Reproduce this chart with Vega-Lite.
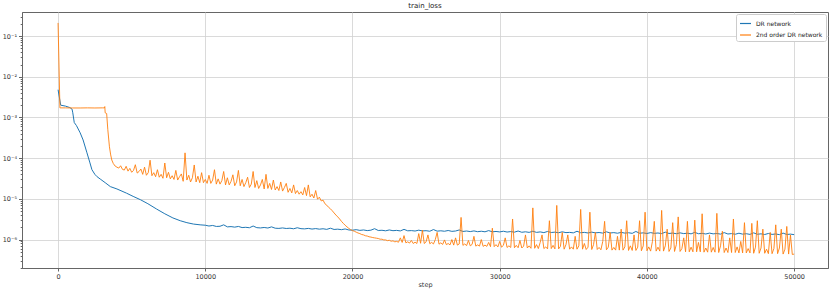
{
"$schema":"https://vega.github.io/schema/vega-lite/v6.json",
"width":806,"height":256,
"autosize":{"type":"none"},
"padding":{"left":22,"top":12,"right":2,"bottom":22},
"background":"white",
"title":{"text":"train_loss","fontSize":7,"font":"DejaVu Sans","fontWeight":"normal","color":"#222","offset":3,"anchor":"middle"},
"config":{"view":{"stroke":"#666","strokeWidth":1},"font":"DejaVu Sans",
 "axis":{"labelFont":"DejaVu Sans","labelFontSize":6.5,"labelColor":"#333","titleFont":"DejaVu Sans","titleFontSize":6.5,"titleFontWeight":"normal","titleColor":"#333","domainColor":"#666","tickColor":"#666","gridColor":"#d0d0d0","gridWidth":0.8,"labelOverlap":false,"labelFlush":false}},
"datasets":{
"blue":[
{"step":0,"loss":4.8e-3},{"step":180,"loss":2.0e-3},{"step":500,"loss":1.9e-3},{"step":800,"loss":1.75e-3},{"step":950,"loss":1.6e-3},{"step":1000,"loss":1.3e-3},{"step":1100,"loss":7.5e-4},{"step":1250,"loss":6.3e-4},{"step":1500,"loss":4.2e-4},{"step":1700,"loss":2.8e-4},{"step":1950,"loss":1.4e-4},{"step":2150,"loss":8.0e-5},{"step":2300,"loss":5.2e-5},{"step":2500,"loss":4.0e-5},{"step":2650,"loss":3.5e-5},{"step":2900,"loss":3.0e-5},{"step":3200,"loss":2.5e-5},{"step":3550,"loss":2.0e-5},{"step":4000,"loss":1.75e-5},{"step":4650,"loss":1.38e-5},{"step":5100,"loss":1.15e-5},{"step":5600,"loss":9.5e-6},{"step":6100,"loss":7.6e-6},{"step":6700,"loss":5.6e-6},{"step":7250,"loss":4.3e-6},{"step":7800,"loss":3.4e-6},{"step":8300,"loss":2.9e-6},{"step":8750,"loss":2.6e-6},{"step":9200,"loss":2.4e-6},{"step":9650,"loss":2.3e-6},{"step":10000,"loss":2.25e-6},
{"step":10250,"loss":2.15e-6},{"step":10500,"loss":2.22e-6},{"step":10750,"loss":2.1e-6},{"step":11000,"loss":2.12e-6},{"step":11250,"loss":2.3e-6},{"step":11500,"loss":2.05e-6},{"step":11750,"loss":2.08e-6},{"step":12000,"loss":2.02e-6},{"step":12250,"loss":2.1e-6},{"step":12500,"loss":1.97e-6},{"step":12750,"loss":2.0e-6},{"step":13000,"loss":1.95e-6},{"step":13250,"loss":2.15e-6},{"step":13500,"loss":1.96e-6},{"step":13750,"loss":1.93e-6},{"step":14000,"loss":1.98e-6},{"step":14250,"loss":1.92e-6},{"step":14500,"loss":2.05e-6},{"step":14750,"loss":1.9e-6},{"step":15000,"loss":1.88e-6},{"step":15250,"loss":1.93e-6},{"step":15500,"loss":1.87e-6},{"step":15750,"loss":1.9e-6},{"step":16000,"loss":1.84e-6},{"step":16250,"loss":1.95e-6},{"step":16500,"loss":1.85e-6},{"step":16750,"loss":1.83e-6},{"step":17000,"loss":1.88e-6},{"step":17250,"loss":1.81e-6},{"step":17500,"loss":1.86e-6},{"step":17750,"loss":1.8e-6},{"step":18000,"loss":1.84e-6},{"step":18250,"loss":1.78e-6},{"step":18500,"loss":1.9e-6},{"step":18750,"loss":1.77e-6},{"step":19000,"loss":1.8e-6},{"step":19250,"loss":1.75e-6},{"step":19500,"loss":1.82e-6},{"step":19750,"loss":1.72e-6},{"step":20000,"loss":1.7e-6},
{"step":20250,"loss":1.75e-6},{"step":20500,"loss":1.68e-6},{"step":20750,"loss":1.72e-6},{"step":21000,"loss":1.66e-6},{"step":21250,"loss":1.7e-6},{"step":21500,"loss":1.85e-6},{"step":21750,"loss":1.67e-6},{"step":22000,"loss":1.69e-6},{"step":22250,"loss":1.64e-6},{"step":22500,"loss":1.72e-6},{"step":22750,"loss":1.65e-6},{"step":23000,"loss":1.68e-6},{"step":23250,"loss":1.63e-6},{"step":23500,"loss":1.78e-6},{"step":23750,"loss":1.64e-6},{"step":24000,"loss":1.66e-6},{"step":24250,"loss":1.62e-6},{"step":24500,"loss":1.7e-6},{"step":24750,"loss":1.63e-6},{"step":25000,"loss":1.65e-6},{"step":25250,"loss":1.6e-6},{"step":25500,"loss":1.76e-6},{"step":25750,"loss":1.61e-6},{"step":26000,"loss":1.64e-6},{"step":26250,"loss":1.6e-6},{"step":26500,"loss":1.67e-6},{"step":26750,"loss":1.59e-6},{"step":27000,"loss":1.62e-6},{"step":27250,"loss":1.72e-6},{"step":27500,"loss":1.58e-6},{"step":27750,"loss":1.62e-6},{"step":28000,"loss":1.57e-6},{"step":28250,"loss":1.63e-6},{"step":28500,"loss":1.56e-6},{"step":28750,"loss":1.6e-6},{"step":29000,"loss":1.55e-6},{"step":29250,"loss":1.66e-6},{"step":29500,"loss":1.55e-6},{"step":29750,"loss":1.58e-6},{"step":30000,"loss":1.54e-6},
{"step":30250,"loss":1.6e-6},{"step":30500,"loss":1.53e-6},{"step":30750,"loss":1.57e-6},{"step":31000,"loss":1.52e-6},{"step":31250,"loss":1.62e-6},{"step":31500,"loss":1.51e-6},{"step":31750,"loss":1.55e-6},{"step":32000,"loss":1.5e-6},{"step":32250,"loss":1.6e-6},{"step":32500,"loss":1.5e-6},{"step":32750,"loss":1.54e-6},{"step":33000,"loss":1.48e-6},{"step":33250,"loss":1.58e-6},{"step":33500,"loss":1.49e-6},{"step":33750,"loss":1.52e-6},{"step":34000,"loss":1.47e-6},{"step":34250,"loss":1.55e-6},{"step":34500,"loss":1.48e-6},{"step":34750,"loss":1.5e-6},{"step":35000,"loss":1.46e-6},{"step":35250,"loss":1.6e-6},{"step":35500,"loss":1.47e-6},{"step":35750,"loss":1.5e-6},{"step":36000,"loss":1.45e-6},{"step":36250,"loss":1.52e-6},{"step":36500,"loss":1.46e-6},{"step":36750,"loss":1.49e-6},{"step":37000,"loss":1.44e-6},{"step":37250,"loss":1.55e-6},{"step":37500,"loss":1.45e-6},{"step":37750,"loss":1.48e-6},{"step":38000,"loss":1.43e-6},{"step":38250,"loss":1.5e-6},{"step":38500,"loss":1.44e-6},{"step":38750,"loss":1.47e-6},{"step":39000,"loss":1.42e-6},{"step":39250,"loss":1.58e-6},{"step":39500,"loss":1.43e-6},{"step":39750,"loss":1.46e-6},{"step":40000,"loss":1.41e-6},
{"step":40250,"loss":1.48e-6},{"step":40500,"loss":1.42e-6},{"step":40750,"loss":1.45e-6},{"step":41000,"loss":1.4e-6},{"step":41250,"loss":1.52e-6},{"step":41500,"loss":1.41e-6},{"step":41750,"loss":1.44e-6},{"step":42000,"loss":1.39e-6},{"step":42250,"loss":1.46e-6},{"step":42500,"loss":1.4e-6},{"step":42750,"loss":1.43e-6},{"step":43000,"loss":1.38e-6},{"step":43250,"loss":1.5e-6},{"step":43500,"loss":1.39e-6},{"step":43750,"loss":1.42e-6},{"step":44000,"loss":1.37e-6},{"step":44250,"loss":1.44e-6},{"step":44500,"loss":1.38e-6},{"step":44750,"loss":1.41e-6},{"step":45000,"loss":1.36e-6},{"step":45250,"loss":1.48e-6},{"step":45500,"loss":1.37e-6},{"step":45750,"loss":1.4e-6},{"step":46000,"loss":1.35e-6},{"step":46250,"loss":1.43e-6},{"step":46500,"loss":1.36e-6},{"step":46750,"loss":1.39e-6},{"step":47000,"loss":1.34e-6},{"step":47250,"loss":1.46e-6},{"step":47500,"loss":1.35e-6},{"step":47750,"loss":1.38e-6},{"step":48000,"loss":1.33e-6},{"step":48250,"loss":1.41e-6},{"step":48500,"loss":1.34e-6},{"step":48750,"loss":1.37e-6},{"step":49000,"loss":1.32e-6},{"step":49250,"loss":1.44e-6},{"step":49500,"loss":1.33e-6},{"step":49750,"loss":1.36e-6},{"step":50000,"loss":1.32e-6}
],
"orange":[
{"step":0,"loss":0.21},{"step":125,"loss":1.72e-3},{"step":500,"loss":1.72e-3},{"step":1000,"loss":1.71e-3},{"step":1500,"loss":1.71e-3},{"step":2000,"loss":1.72e-3},{"step":2500,"loss":1.71e-3},{"step":3000,"loss":1.72e-3},{"step":3150,"loss":1.72e-3},{"step":3175,"loss":1.85e-3},{"step":3200,"loss":1.3e-3},{"step":3300,"loss":1.25e-3},{"step":3380,"loss":5.0e-4},{"step":3490,"loss":1.9e-4},{"step":3575,"loss":1.2e-4},{"step":3650,"loss":9.0e-5},
{"step":3750,"loss":7.4e-5},{"step":3875,"loss":6.4e-5},{"step":4000,"loss":6.0e-5},{"step":4125,"loss":5.7e-5},{"step":4250,"loss":6.5e-5},{"step":4375,"loss":5.3e-5},{"step":4500,"loss":5.1e-5},{"step":4625,"loss":6.3e-5},{"step":4750,"loss":4.8e-5},{"step":4875,"loss":5.6e-5},{"step":5000,"loss":4.5e-5},{"step":5125,"loss":5.0e-5},{"step":5250,"loss":6.9e-5},{"step":5375,"loss":4.3e-5},{"step":5500,"loss":4.7e-5},{"step":5625,"loss":5.4e-5},{"step":5750,"loss":4.0e-5},{"step":5875,"loss":6.0e-5},{"step":6000,"loss":3.8e-5},{"step":6125,"loss":4.4e-5},{"step":6250,"loss":8.9e-5},{"step":6375,"loss":3.7e-5},{"step":6500,"loss":4.4e-5},{"step":6625,"loss":3.5e-5},{"step":6750,"loss":5.2e-5},{"step":6875,"loss":3.4e-5},{"step":7000,"loss":4.0e-5},{"step":7125,"loss":3.2e-5},{"step":7250,"loss":7.6e-5},{"step":7375,"loss":3.3e-5},{"step":7500,"loss":4.5e-5},{"step":7625,"loss":3.1e-5},{"step":7750,"loss":3.7e-5},{"step":7875,"loss":3.0e-5},{"step":8000,"loss":5.0e-5},{"step":8125,"loss":2.9e-5},{"step":8250,"loss":3.5e-5},{"step":8375,"loss":4.1e-5},{"step":8500,"loss":2.7e-5},{"step":8625,"loss":1.35e-4},{"step":8750,"loss":2.9e-5},{"step":8875,"loss":3.8e-5},{"step":9000,"loss":2.6e-5},{"step":9125,"loss":3.3e-5},{"step":9250,"loss":6.8e-5},{"step":9375,"loss":2.6e-5},{"step":9500,"loss":3.6e-5},{"step":9625,"loss":2.5e-5},{"step":9750,"loss":4.4e-5},{"step":9875,"loss":2.5e-5},{"step":10000,"loss":3.0e-5},
{"step":10125,"loss":2.4e-5},{"step":10250,"loss":3.8e-5},{"step":10375,"loss":2.4e-5},{"step":10500,"loss":2.9e-5},{"step":10625,"loss":5.2e-5},{"step":10750,"loss":2.3e-5},{"step":10875,"loss":3.1e-5},{"step":11000,"loss":2.3e-5},{"step":11125,"loss":2.8e-5},{"step":11250,"loss":4.7e-5},{"step":11375,"loss":2.2e-5},{"step":11500,"loss":3.3e-5},{"step":11625,"loss":2.2e-5},{"step":11750,"loss":2.7e-5},{"step":11875,"loss":3.9e-5},{"step":12000,"loss":2.1e-5},{"step":12125,"loss":2.6e-5},{"step":12250,"loss":5.0e-5},{"step":12375,"loss":2.1e-5},{"step":12500,"loss":3.0e-5},{"step":12625,"loss":2.0e-5},{"step":12750,"loss":2.5e-5},{"step":12875,"loss":3.4e-5},{"step":13000,"loss":1.9e-5},{"step":13125,"loss":2.3e-5},{"step":13250,"loss":4.7e-5},{"step":13375,"loss":1.9e-5},{"step":13500,"loss":2.8e-5},{"step":13625,"loss":1.8e-5},{"step":13750,"loss":2.2e-5},{"step":13875,"loss":3.0e-5},{"step":14000,"loss":1.75e-5},{"step":14125,"loss":4.0e-5},{"step":14250,"loss":1.8e-5},{"step":14375,"loss":2.4e-5},{"step":14500,"loss":1.7e-5},{"step":14625,"loss":2.9e-5},{"step":14750,"loss":1.65e-5},{"step":14875,"loss":2.0e-5},{"step":15000,"loss":1.6e-5},{"step":15125,"loss":2.6e-5},{"step":15250,"loss":1.55e-5},{"step":15375,"loss":1.9e-5},{"step":15500,"loss":2.4e-5},{"step":15625,"loss":1.45e-5},{"step":15750,"loss":1.8e-5},{"step":15875,"loss":1.4e-5},{"step":16000,"loss":2.2e-5},{"step":16125,"loss":1.35e-5},{"step":16250,"loss":1.6e-5},{"step":16375,"loss":1.3e-5},{"step":16500,"loss":1.5e-5},{"step":16625,"loss":1.25e-5},{"step":16750,"loss":1.9e-5},{"step":16875,"loss":1.2e-5},{"step":17000,"loss":2.2e-5},{"step":17125,"loss":1.12e-5},{"step":17250,"loss":1.3e-5},{"step":17375,"loss":1.05e-5},{"step":17500,"loss":1.6e-5},{"step":17625,"loss":9.8e-6},{"step":17750,"loss":1.1e-5},{"step":17875,"loss":8.9e-6},{"step":18000,"loss":9.3e-6},{"step":18125,"loss":7.6e-6},{"step":18250,"loss":7.0e-6},{"step":18375,"loss":6.2e-6},{"step":18500,"loss":5.7e-6},{"step":18625,"loss":5.1e-6},{"step":18750,"loss":4.5e-6},{"step":18875,"loss":4.0e-6},{"step":19000,"loss":3.6e-6},{"step":19125,"loss":3.2e-6},{"step":19250,"loss":2.8e-6},{"step":19375,"loss":2.5e-6},{"step":19500,"loss":2.25e-6},{"step":19625,"loss":2.05e-6},{"step":19750,"loss":1.88e-6},{"step":19875,"loss":1.75e-6},{"step":20000,"loss":1.66e-6},
{"step":20125,"loss":1.6e-6},{"step":20250,"loss":1.52e-6},{"step":20375,"loss":1.45e-6},{"step":20500,"loss":1.4e-6},{"step":20625,"loss":1.33e-6},{"step":20750,"loss":1.3e-6},{"step":20875,"loss":1.24e-6},{"step":21000,"loss":1.22e-6},{"step":21125,"loss":1.17e-6},{"step":21250,"loss":1.15e-6},{"step":21375,"loss":1.12e-6},{"step":21500,"loss":1.1e-6},{"step":21625,"loss":1.08e-6},{"step":21750,"loss":1.06e-6},{"step":21875,"loss":1.02e-6},{"step":22000,"loss":1.02e-6},{"step":22125,"loss":9.8e-7},{"step":22250,"loss":9.8e-7},{"step":22375,"loss":9.4e-7},{"step":22500,"loss":9.6e-7},{"step":22625,"loss":9.1e-7},{"step":22750,"loss":9.3e-7},{"step":22875,"loss":8.8e-7},{"step":23000,"loss":9.0e-7},{"step":23125,"loss":8.6e-7},{"step":23250,"loss":1.1e-6},{"step":23375,"loss":8.5e-7},{"step":23500,"loss":1.25e-6},{"step":23625,"loss":8.3e-7},{"step":23750,"loss":8.8e-7},{"step":23875,"loss":8.2e-7},{"step":24000,"loss":9.5e-7},{"step":24125,"loss":8.0e-7},{"step":24250,"loss":8.6e-7},{"step":24375,"loss":8.0e-7},{"step":24500,"loss":1.4e-6},{"step":24625,"loss":8.1e-7},{"step":24750,"loss":1.7e-6},{"step":24875,"loss":8.0e-7},{"step":25000,"loss":8.8e-7},{"step":25125,"loss":1.3e-6},{"step":25250,"loss":7.9e-7},{"step":25375,"loss":8.5e-7},{"step":25500,"loss":7.8e-7},{"step":25625,"loss":1.0e-6},{"step":25750,"loss":1.5e-6},{"step":25875,"loss":7.7e-7},{"step":26000,"loss":8.3e-7},{"step":26125,"loss":7.6e-7},{"step":26250,"loss":9.8e-7},{"step":26375,"loss":7.5e-7},{"step":26500,"loss":8.0e-7},{"step":26625,"loss":7.4e-7},{"step":26750,"loss":1.0e-6},{"step":26875,"loss":7.3e-7},{"step":27000,"loss":1.1e-6},{"step":27125,"loss":7.3e-7},{"step":27250,"loss":7.8e-7},{"step":27375,"loss":3.5e-6},{"step":27500,"loss":7.2e-7},{"step":27625,"loss":7.8e-7},{"step":27750,"loss":7.1e-7},{"step":27875,"loss":9.5e-7},{"step":28000,"loss":7.0e-7},{"step":28125,"loss":7.6e-7},{"step":28250,"loss":1.2e-6},{"step":28375,"loss":6.9e-7},{"step":28500,"loss":7.4e-7},{"step":28625,"loss":6.9e-7},{"step":28750,"loss":1.0e-6},{"step":28875,"loss":6.8e-7},{"step":29000,"loss":7.3e-7},{"step":29125,"loss":6.8e-7},{"step":29250,"loss":8.5e-7},{"step":29375,"loss":6.7e-7},{"step":29500,"loss":1.9e-6},{"step":29625,"loss":6.7e-7},{"step":29750,"loss":7.5e-7},{"step":29875,"loss":6.6e-7},{"step":30000,"loss":9.0e-7},
{"step":30125,"loss":6.5e-7},{"step":30250,"loss":7.2e-7},{"step":30375,"loss":1.1e-6},{"step":30500,"loss":6.4e-7},{"step":30625,"loss":7.0e-7},{"step":30750,"loss":6.4e-7},{"step":30875,"loss":3.2e-6},{"step":31000,"loss":6.3e-7},{"step":31125,"loss":7.2e-7},{"step":31250,"loss":6.3e-7},{"step":31375,"loss":9.5e-7},{"step":31500,"loss":6.2e-7},{"step":31625,"loss":6.9e-7},{"step":31750,"loss":1.3e-6},{"step":31875,"loss":6.2e-7},{"step":32000,"loss":7.0e-7},{"step":32125,"loss":6.1e-7},{"step":32250,"loss":6.0e-6},{"step":32375,"loss":6.1e-7},{"step":32500,"loss":7.5e-7},{"step":32625,"loss":6.0e-7},{"step":32750,"loss":8.5e-7},{"step":32875,"loss":1.3e-6},{"step":33000,"loss":6.0e-7},{"step":33125,"loss":6.6e-7},{"step":33250,"loss":5.9e-7},{"step":33375,"loss":2.9e-6},{"step":33500,"loss":6.0e-7},{"step":33625,"loss":7.2e-7},{"step":33750,"loss":5.9e-7},{"step":33875,"loss":6.9e-6},{"step":34000,"loss":5.9e-7},{"step":34125,"loss":6.8e-7},{"step":34250,"loss":1.5e-6},{"step":34375,"loss":5.8e-7},{"step":34500,"loss":7.5e-7},{"step":34625,"loss":1.3e-6},{"step":34750,"loss":5.8e-7},{"step":34875,"loss":6.6e-7},{"step":35000,"loss":5.8e-7},{"step":35125,"loss":1.2e-6},{"step":35250,"loss":5.8e-7},{"step":35375,"loss":7.0e-7},{"step":35500,"loss":5.5e-6},{"step":35625,"loss":5.8e-7},{"step":35750,"loss":8.0e-7},{"step":35875,"loss":5.7e-7},{"step":36000,"loss":6.5e-7},{"step":36125,"loss":4.7e-6},{"step":36250,"loss":5.7e-7},{"step":36375,"loss":7.5e-7},{"step":36500,"loss":1.5e-6},{"step":36625,"loss":5.7e-7},{"step":36750,"loss":6.4e-7},{"step":36875,"loss":5.6e-7},{"step":37000,"loss":9.0e-7},{"step":37125,"loss":2.8e-6},{"step":37250,"loss":5.6e-7},{"step":37375,"loss":6.5e-7},{"step":37500,"loss":1.5e-6},{"step":37625,"loss":5.5e-7},{"step":37750,"loss":6.4e-7},{"step":37875,"loss":5.5e-7},{"step":38000,"loss":1.2e-6},{"step":38125,"loss":5.5e-7},{"step":38250,"loss":1.8e-6},{"step":38375,"loss":5.5e-7},{"step":38500,"loss":6.6e-7},{"step":38625,"loss":2.9e-6},{"step":38750,"loss":5.4e-7},{"step":38875,"loss":7.0e-7},{"step":39000,"loss":5.4e-7},{"step":39125,"loss":1.3e-6},{"step":39250,"loss":5.4e-7},{"step":39375,"loss":6.5e-7},{"step":39500,"loss":2.9e-6},{"step":39625,"loss":5.3e-7},{"step":39750,"loss":7.0e-7},{"step":39875,"loss":4.7e-6},{"step":40000,"loss":5.3e-7},
{"step":40125,"loss":6.6e-7},{"step":40250,"loss":5.2e-7},{"step":40375,"loss":9.0e-7},{"step":40500,"loss":2.8e-6},{"step":40625,"loss":5.2e-7},{"step":40750,"loss":6.5e-7},{"step":40875,"loss":5.2e-7},{"step":41000,"loss":5.2e-6},{"step":41125,"loss":5.2e-7},{"step":41250,"loss":7.0e-7},{"step":41375,"loss":1.8e-6},{"step":41500,"loss":5.1e-7},{"step":41625,"loss":6.2e-7},{"step":41750,"loss":2.6e-6},{"step":41875,"loss":5.1e-7},{"step":42000,"loss":7.5e-7},{"step":42125,"loss":3.6e-6},{"step":42250,"loss":5.1e-7},{"step":42375,"loss":6.0e-7},{"step":42500,"loss":1.1e-6},{"step":42625,"loss":5.0e-7},{"step":42750,"loss":2.8e-6},{"step":42875,"loss":5.0e-7},{"step":43000,"loss":6.5e-7},{"step":43125,"loss":5.0e-7},{"step":43250,"loss":3.0e-6},{"step":43375,"loss":5.0e-7},{"step":43500,"loss":8.5e-7},{"step":43625,"loss":5.0e-7},{"step":43750,"loss":4.3e-6},{"step":43875,"loss":4.9e-7},{"step":44000,"loss":6.2e-7},{"step":44125,"loss":4.9e-7},{"step":44250,"loss":1.3e-6},{"step":44375,"loss":4.9e-7},{"step":44500,"loss":6.4e-7},{"step":44625,"loss":4.9e-7},{"step":44750,"loss":4.4e-6},{"step":44875,"loss":4.8e-7},{"step":45000,"loss":7.0e-7},{"step":45125,"loss":1.6e-6},{"step":45250,"loss":4.8e-7},{"step":45375,"loss":6.2e-7},{"step":45500,"loss":4.8e-7},{"step":45625,"loss":1.1e-6},{"step":45750,"loss":4.8e-7},{"step":45875,"loss":3.2e-6},{"step":46000,"loss":4.8e-7},{"step":46125,"loss":6.6e-7},{"step":46250,"loss":4.7e-7},{"step":46375,"loss":9.0e-7},{"step":46500,"loss":4.7e-7},{"step":46625,"loss":2.6e-6},{"step":46750,"loss":4.7e-7},{"step":46875,"loss":6.0e-7},{"step":47000,"loss":4.7e-7},{"step":47125,"loss":2.5e-6},{"step":47250,"loss":4.6e-7},{"step":47375,"loss":6.5e-7},{"step":47500,"loss":2.9e-6},{"step":47625,"loss":4.6e-7},{"step":47750,"loss":6.2e-7},{"step":47875,"loss":1.8e-6},{"step":48000,"loss":4.6e-7},{"step":48125,"loss":5.8e-7},{"step":48250,"loss":4.5e-7},{"step":48375,"loss":1.5e-6},{"step":48500,"loss":4.5e-7},{"step":48625,"loss":6.0e-7},{"step":48750,"loss":2.3e-6},{"step":48875,"loss":4.5e-7},{"step":49000,"loss":6.2e-7},{"step":49125,"loss":1.8e-6},{"step":49250,"loss":4.4e-7},{"step":49375,"loss":5.8e-7},{"step":49500,"loss":2.1e-6},{"step":49625,"loss":4.4e-7},{"step":49750,"loss":1.3e-6},{"step":49875,"loss":4.3e-7},{"step":50000,"loss":4.4e-7}
]},
"encoding":{
 "x":{"field":"step","type":"quantitative","scale":{"domain":[-2450,52300],"nice":false,"zero":false},
  "axis":{"values":[0,10000,20000,30000,40000,50000],"format":"d","title":"step","tickSize":3,"labelPadding":2,"titlePadding":2,"grid":true}},
 "y":{"field":"loss","type":"quantitative","scale":{"type":"log","domain":[2e-7,0.39],"nice":false},
  "axis":{"title":null,"grid":true,"labelPadding":2,
   "values":[2e-7,3e-7,4e-7,5e-7,6e-7,7e-7,8e-7,9e-7,1e-6,2e-6,3e-6,4e-6,5e-6,6e-6,7e-6,8e-6,9e-6,1e-5,2e-5,3e-5,4e-5,5e-5,6e-5,7e-5,8e-5,9e-5,1e-4,2e-4,3e-4,4e-4,5e-4,6e-4,7e-4,8e-4,9e-4,1e-3,2e-3,3e-3,4e-3,5e-3,6e-3,7e-3,8e-3,9e-3,1e-2,2e-2,3e-2,4e-2,5e-2,6e-2,7e-2,8e-2,9e-2,1e-1,2e-1,3e-1],
   "labelExpr":"abs(log(datum.value)/LN10 - round(log(datum.value)/LN10)) < 0.01 ? '10⁻' + ['⁰','¹','²','³','⁴','⁵','⁶','⁷','⁸'][-round(log(datum.value)/LN10)] : ''",
   "tickSize":{"condition":{"test":"abs(log(datum.value)/LN10 - round(log(datum.value)/LN10)) < 0.01","value":3.5},"value":1.8},
   "gridOpacity":{"condition":{"test":"abs(log(datum.value)/LN10 - round(log(datum.value)/LN10)) < 0.01","value":1},"value":0}}}
},
"layer":[
 {"data":{"name":"blue"},"mark":{"type":"line","strokeWidth":1,"clip":true},
  "encoding":{"color":{"datum":"DR network","type":"nominal","scale":{"domain":["DR network","2nd order DR network"],"range":["#1f77b4","#ff7f0e"]},
   "legend":{"title":null,"orient":"top-right","offset":2,"symbolType":"stroke","symbolSize":120,"symbolStrokeWidth":1.2,"labelFontSize":6,"labelFont":"DejaVu Sans","labelColor":"#222","fillColor":"white","strokeColor":"#cccccc","padding":3,"cornerRadius":2,"rowPadding":1.5,"labelOffset":4}}}},
 {"data":{"name":"orange"},"mark":{"type":"line","strokeWidth":0.9,"clip":true},
  "encoding":{"color":{"datum":"2nd order DR network","type":"nominal"}}}
]
}
